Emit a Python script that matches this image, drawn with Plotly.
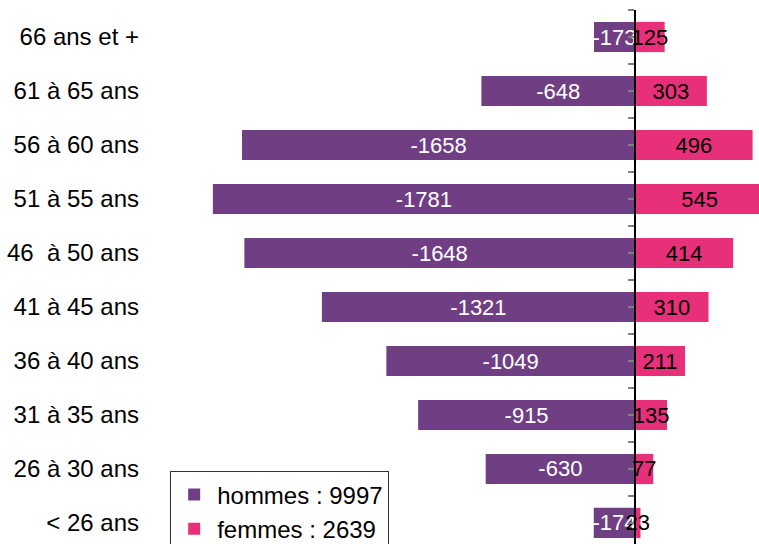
import plotly.graph_objects as go

# Age bands, from the youngest (bottom) to the oldest (top)
categories = ["< 26 ans", "26 à 30 ans", "31 à 35 ans", "36 à 40 ans", "41 à 45 ans",
              "46\u00a0 à 50 ans", "51 à 55 ans", "56 à 60 ans", "61 à 65 ans", "66 ans et +"]
hommes = [-174, -630, -915, -1049, -1321, -1648, -1781, -1658, -648, -173]
femmes = [23, 77, 135, 211, 310, 414, 545, 496, 303, 125]

PURPLE = "#703E83"
PINK = "#E8307A"
FONT = "Arial, Liberation Sans, sans-serif"

pos = list(range(len(categories)))
x_range = [-2004, 523]
y_range = [-0.389, 9.5]
axis_frac = (0 - x_range[0]) / (x_range[1] - x_range[0])

fig = go.Figure()
fig.add_trace(go.Bar(
    y=pos, x=hommes, orientation="h", name=f"hommes : {-sum(hommes)}",
    marker=dict(color=PURPLE, line=dict(width=0)),
    text=[str(v) for v in hommes], texttemplate="%{text}",
    textposition="inside", insidetextanchor="middle", constraintext="none",
    textangle=0,
    textfont=dict(color="white", size=22, family=FONT),
))
fig.add_trace(go.Bar(
    y=pos, x=femmes, orientation="h", name=f"femmes : {sum(femmes)}",
    marker=dict(color=PINK, line=dict(width=0)),
    text=[str(v) for v in femmes], texttemplate="%{text}",
    textposition="inside", insidetextanchor="middle", constraintext="none",
    textangle=0,
    textfont=dict(color="black", size=22, family=FONT),
))
# empty trace so the central axis (yaxis2) gets drawn
fig.add_trace(go.Scatter(x=[None], y=[None], yaxis="y2", mode="lines",
                         showlegend=False, hoverinfo="skip"))

fig.update_layout(
    width=759, height=544,
    margin=dict(l=160, r=0, t=10, b=0, autoexpand=False),
    paper_bgcolor="white", plot_bgcolor="white",
    barmode="relative", bargap=0.44,
    font=dict(family=FONT, size=22, color="black"),
    xaxis=dict(range=x_range, showticklabels=False, showgrid=False,
               zeroline=False, showline=False, fixedrange=True),
    yaxis=dict(range=y_range, tickvals=pos, ticktext=categories,
               showgrid=False, zeroline=False, showline=False,
               ticks="", ticklabelstandoff=20,
               tickfont=dict(size=24, family=FONT, color="black")),
    # central axis at x = 0, carrying the tick marks
    yaxis2=dict(overlaying="y", anchor="free", position=axis_frac,
                range=y_range, side="left", showline=True, linecolor="black",
                linewidth=1.5, showticklabels=False, showgrid=False,
                zeroline=False, ticks="outside", ticklen=6, tickwidth=2,
                tickcolor="#808080", tickvals=pos, layer="above traces",
                minor=dict(ticks="outside", ticklen=6, tickwidth=2,
                           tickcolor="#808080",
                           tickvals=[p + 0.5 for p in pos])),
    showlegend=True,
    legend=dict(x=0.017, y=0.136, xanchor="left", yanchor="top",
                bgcolor="white", bordercolor="#333", borderwidth=1,
                font=dict(size=24, family=FONT, color="black"),
                itemwidth=36, traceorder="normal"),
)

fig.write_html("out.html")
